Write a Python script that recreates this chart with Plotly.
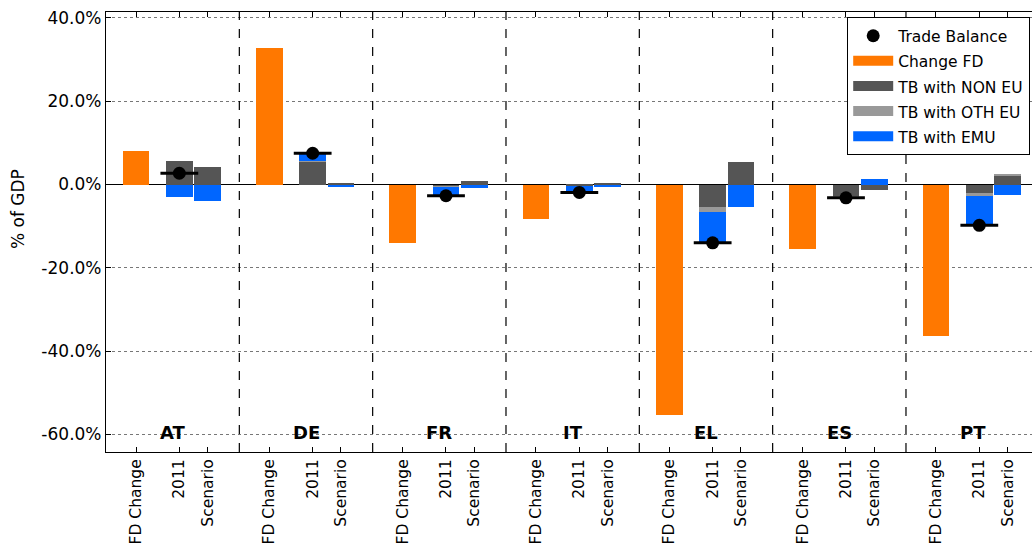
import plotly.graph_objects as go

# ---- data (% of GDP) ----
countries = ["AT", "DE", "FR", "IT", "EL", "ES", "PT"]
bar_labels = ["FD Change", "2011", "Scenario"]
fd_change = [8.0, 32.7, -14.1, -8.3, -55.2, -15.5, -36.4]
non_eu_2011 = [5.6, 5.5, -0.5, -0.4, -5.4, -2.9, -2.0]
oth_eu_2011 = [0.0, 0.25, -0.1, 0.0, -1.3, -0.2, -0.8]
emu_2011 = [-2.9, 1.6, -2.0, -1.3, -7.3, 0.0, -7.0]
trade_balance_2011 = [2.7, 7.5, -2.7, -1.9, -14.0, -3.2, -9.8]
non_eu_scen = [4.3, 0.4, 0.9, 0.4, 5.5, -1.3, 2.1]
oth_eu_scen = [0.0, 0.0, 0.0, 0.0, 0.0, 0.0, 0.5]
emu_scen = [-3.9, -0.6, -0.8, -0.5, -5.5, 1.4, -2.4]
y_ticks = [40, 20, 0, -20, -40, -60]
y_tick_text = ["40.0%", "20.0%", "0.0%", "-20.0%", "-40.0%", "-60.0%"]

# ---- layout constants ----
GROUP = 4.0
OFF_FD, OFF_2011, OFF_SCEN = 0.9, 2.2, 3.05
BW = 0.8
C_ORANGE = "#ff7800"
C_DARK = "#555555"
C_LIGHT = "#999999"
C_BLUE = "#0066ff"
FONT = "DejaVu Sans"
LEG_TXT = '<span style="font-size:15.5px">%s</span>'

n = len(countries)
x_fd = [GROUP * i + OFF_FD for i in range(n)]
x_2011 = [GROUP * i + OFF_2011 for i in range(n)]
x_scen = [GROUP * i + OFF_SCEN for i in range(n)]
x_stack = x_2011 + x_scen

fig = go.Figure()

series = [
    ("Change FD", C_ORANGE, x_fd, fd_change),
    ("TB with NON EU", C_DARK, x_stack, non_eu_2011 + non_eu_scen),
    ("TB with OTH EU", C_LIGHT, x_stack, oth_eu_2011 + oth_eu_scen),
    ("TB with EMU", C_BLUE, x_stack, emu_2011 + emu_scen),
]
for name, col, xs, ys in series:
    fig.add_trace(go.Bar(x=xs, y=ys, width=BW, name=name, showlegend=False,
                         marker=dict(color=col, line=dict(width=0))))

# trade balance: horizontal bar + dot
fig.add_trace(go.Scatter(x=x_2011, y=trade_balance_2011, mode="markers", showlegend=False,
                         marker=dict(symbol="line-ew", size=27, color="black",
                                     line=dict(color="black", width=3))))
fig.add_trace(go.Scatter(x=x_2011, y=trade_balance_2011, mode="markers",
                         name=LEG_TXT % "Trade Balance",
                         marker=dict(symbol="circle", size=13, color="black")))

# legend-only entries with wide rectangle swatches
for name, col, xs, ys in series:
    fig.add_trace(go.Scatter(x=[None], y=[None], mode="lines", name=LEG_TXT % name,
                             line=dict(color=col, width=11)))

# separators
for i in range(1, n):
    fig.add_shape(type="line", xref="x", yref="paper", x0=GROUP * i, x1=GROUP * i, y0=0, y1=1,
                  line=dict(color="black", width=1.2, dash="dash"), layer="above")

# country labels
for i, c in enumerate(countries):
    fig.add_annotation(x=GROUP * i + GROUP / 2, y=-59.5, xref="x", yref="y", text="<b>%s</b>" % c,
                       showarrow=False, font=dict(family=FONT, size=18, color="black"),
                       xanchor="center", yanchor="middle")

# y axis title
fig.add_annotation(x=(18 - 106) / 926, y=(452 - 209) / 440, xref="paper", yref="paper",
                   text="% of GDP", textangle=-90, showarrow=False,
                   xanchor="center", yanchor="middle",
                   font=dict(family=FONT, size=17, color="black"))

tickvals = []
ticktext = []
for i in range(n):
    tickvals += [x_fd[i], x_2011[i], x_scen[i]]
    ticktext += bar_labels

fig.update_layout(
    width=1032, height=544, autosize=False,
    margin=dict(l=106, r=0, t=12, b=92, autoexpand=False),
    paper_bgcolor="white", plot_bgcolor="white",
    barmode="relative", bargap=0,
    font=dict(family=FONT, size=16, color="black"),
    legend=dict(x=(847 - 106) / 926, y=(452 - 17) / 440, xanchor="left", yanchor="top",
                bgcolor="white", bordercolor="black", borderwidth=1.2,
                font=dict(family=FONT, size=17), tracegroupgap=0, itemwidth=40),
    xaxis=dict(range=[0, 926 / (133.33 / GROUP)], tickvals=tickvals, ticktext=ticktext,
               tickangle=-90, ticks="inside", ticklen=5, tickcolor="black",
               showline=True, linecolor="black", linewidth=1.2, mirror="ticks",
               showgrid=False, zeroline=False, tickfont=dict(size=15.5)),
    yaxis=dict(range=[-64.2, 41.4], tickvals=y_ticks, ticktext=y_tick_text,
               ticks="inside", ticklen=5, tickcolor="black",
               showline=True, linecolor="black", linewidth=1.2,
               showgrid=True, gridcolor="#777777", gridwidth=1, griddash="dot",
               zeroline=True, zerolinecolor="black", zerolinewidth=1.2,
               tickfont=dict(size=17)),
)

fig.write_html("out.html", config={"displayModeBar": False},
               post_script="document.body.style.margin='0';document.body.style.padding='0';"
                           "document.body.style.overflow='hidden';")
